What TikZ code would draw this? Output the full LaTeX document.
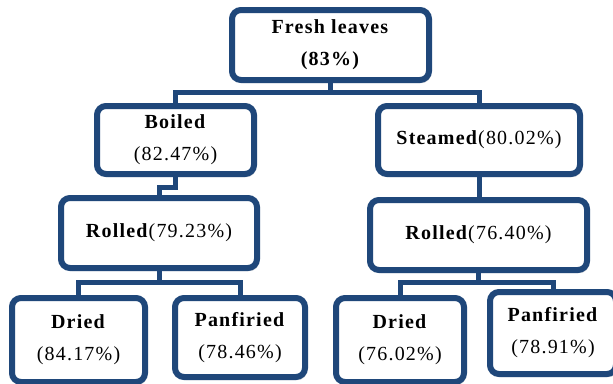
\documentclass[tikz,border=0pt]{standalone}
\usepackage{fontspec}
\setmainfont{Liberation Serif}[LetterSpace=6]
\usetikzlibrary{shadows}
\definecolor{boxblue}{RGB}{31,71,122}
\begin{document}
\begin{tikzpicture}[x=1pt,y=-1pt,
  box/.style={draw=boxblue, line width=6pt, rounded corners=9pt, fill=white,
    inner sep=0pt, align=center, font=\fontsize{20}{32}\selectfont,
    drop shadow={shadow xshift=2pt, shadow yshift=-3pt, opacity=0.25}},
  conn/.style={draw=boxblue, line width=5pt}]
\useasboundingbox (0,0) rectangle (613,383);
\clip (0,0) rectangle (613,383);
\node[box, minimum width=197pt, minimum height=70pt] (fresh) at (330.5,45) {\textbf{Fresh leaves}\\\textbf{(83\%)}};
\node[box, minimum width=157pt, minimum height=68pt] (boiled) at (175.5,140) {\textbf{Boiled}\\(82.47\%)};
\node[box, minimum width=202pt, minimum height=68pt] (steamed) at (479,140) {\textbf{Steamed}(80.02\%)};
\node[box, minimum width=196pt, minimum height=70pt] (rolledL) at (159,233) {\textbf{Rolled}(79.23\%)};
\node[box, minimum width=217pt, minimum height=70pt] (rolledR) at (478.5,235) {\textbf{Rolled}(76.40\%)};
\node[box, minimum width=133pt, minimum height=84pt] (driedL) at (78.5,340) {\textbf{Dried}\\(84.17\%)};
\node[box, minimum width=130pt, minimum height=79pt] (panL) at (240,337.5) {\textbf{Panfiried}\\(78.46\%)};
\node[box, minimum width=128pt, minimum height=84pt] (driedR) at (400,340) {\textbf{Dried}\\(76.02\%)};
\node[box, minimum width=126pt, minimum height=82pt] (panR) at (553,333) {\textbf{Panfiried}\\(78.91\%)};
\coordinate (j1) at (330.5,92);
\coordinate (j2) at (168,187);
\coordinate (j3) at (159,282);
\coordinate (j4) at (478.5,282);
\draw[conn] (fresh.south) -- (j1);
\draw[conn] (boiled.north) |- (j1) -| (steamed.north);
\draw[conn] (boiled.south) |- (j2) -| (rolledL.north);
\draw[conn] (steamed.south) -- (steamed.south |- rolledR.north);
\draw[conn] (rolledL.south) -- (j3);
\draw[conn] (driedL.north) |- (j3) -| (panL.north);
\draw[conn] (rolledR.south) -- (j4);
\draw[conn] (driedR.north) |- (j4) -| (panR.north);
\end{tikzpicture}
\end{document}
